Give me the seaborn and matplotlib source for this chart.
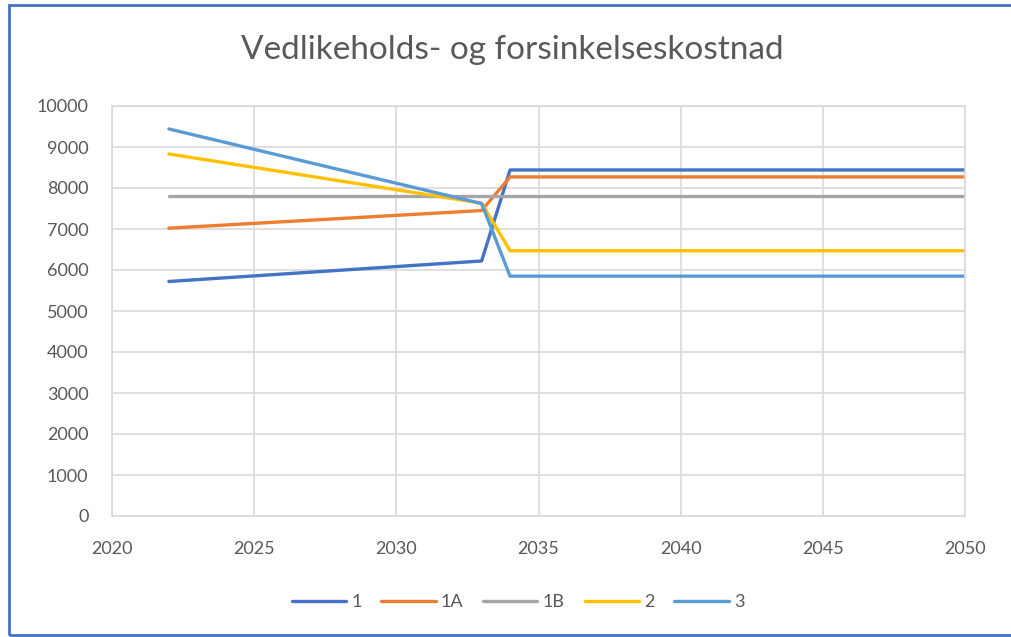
import matplotlib
matplotlib.use("Agg")
import matplotlib.pyplot as plt
from matplotlib.patches import Rectangle
import seaborn as sns
import pandas as pd

years = [2022, 2033, 2034, 2050]
s1 = [5720, 6220, 8440, 8440]
s1A = [7020, 7450, 8270, 8270]
s1B = [7800, 7800, 7800, 7800]
s2 = [8830, 7630, 6470, 6470]
s3 = [9440, 7620, 5850, 5850]
series_names = ["1", "1A", "1B", "2", "3"]
colors = ["#4472C4", "#ED7D31", "#A5A5A5", "#FFC000", "#5B9BD5"]
title = "Vedlikeholds- og forsinkelseskostnad"

rows = []
for name, vals in zip(series_names, [s1, s1A, s1B, s2, s3]):
    for y, v in zip(years, vals):
        rows.append({"year": y, "value": v, "serie": name})
df = pd.DataFrame(rows)

sns.set_theme(style="white")
plt.rcParams["font.family"] = ["Lato", "DejaVu Sans"]

fig = plt.figure(figsize=(10.11, 6.37), dpi=100)
ax = fig.add_axes([112/1011, 1-516/637, (965-112)/1011, (516-106)/637])

sns.lineplot(data=df, x="year", y="value", hue="serie", hue_order=series_names,
             palette=colors, linewidth=2.4, ax=ax, legend=True, sort=False,
             estimator=None)

ax.set_xlim(2020, 2050)
ax.set_ylim(0, 10000)
ax.set_xticks(range(2020, 2051, 5))
ax.set_yticks(range(0, 10001, 1000))
ax.grid(True, color="#D9D9D9", linewidth=1.2)
for sp in ax.spines.values():
    sp.set_color("#D9D9D9")
    sp.set_linewidth(1.2)
ax.tick_params(axis="both", colors="#595959", labelsize=13, length=0)
ax.tick_params(axis="y", pad=17)
ax.tick_params(axis="x", pad=18)
ax.set_xlabel("")
ax.set_ylabel("")

fig.text(512/1011, 1-50/637, title, ha="center", va="center", fontsize=24, color="#595959")

handles, labels = ax.get_legend_handles_labels()
ax.legend(handles, labels, loc="center", bbox_to_anchor=(0.476, -0.21), ncol=5,
          frameon=False, fontsize=13, labelcolor="#595959", handlelength=3.0,
          columnspacing=1.1, handletextpad=0.3)

fig.add_artist(Rectangle((9/1011, 2/637), 1.05, 1-7/637, transform=fig.transFigure,
                         fill=False, edgecolor="#4472C4", linewidth=2, clip_on=False))

fig.savefig("out.png", dpi=100)
